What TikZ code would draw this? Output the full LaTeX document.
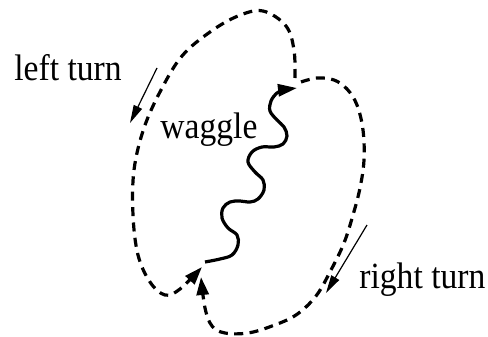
\documentclass[tikz,border=0pt]{standalone}
\usepackage{fontspec}
\usepackage{graphicx}
\setmainfont{Liberation Serif}
\newfontfamily\timesfam{Liberation Serif}
\usetikzlibrary{arrows.meta}
\newcommand{\tallbox}[1]{\scalebox{1}[1.1]{#1}}
\begin{document}
\begin{tikzpicture}[x=0.5pt,y=-0.5pt,
  loopline/.style={line width=1.6pt, dash pattern=on 4.5pt off 3.2pt, line join=round, -{Triangle[length=9pt,width=6pt]}},
  wag/.style={line width=1.6pt, line join=round, -{Triangle[length=9.5pt,width=6pt]}},
  hint/.style={line width=0.6pt, -{Triangle[length=9pt,width=4.5pt]}},
  lbl/.style={font=\timesfam\fontsize{16.8}{20}\selectfont, inner sep=0pt, anchor=base west}]
\useasboundingbox (0,0) rectangle (488,337);
% labels
\node[lbl] (lt) at (14,80) {\tallbox{left turn}};
\node[lbl] (wg) at (160,138) {\tallbox{waggle}};
\node[lbl] (rt) at (359,288) {\tallbox{right turn}};
% key points
\coordinate (ws) at (205,262);
\coordinate (we) at (297,88);
\coordinate (l1s) at (295,78);
\coordinate (l1e) at (202,267);
\coordinate (l2s) at (301,82);
\coordinate (l2e) at (201,277);
\coordinate (lta) at (157,68);
\coordinate (ltb) at (130,123);
\coordinate (rta) at (367,225);
\coordinate (rtb) at (326,293);
% waggle
\draw[wag] plot[smooth, tension=0.6] coordinates {(ws) (220,259) (232,255) (238,245) (237,235) (228,228) (222,218) (223,208) (230,202) (240,201) (250,202) (258,199) (264,190) (263,180) (255,172) (248,162) (252,152) (262,147) (274,147) (283,144) (287,136) (284,127) (277,120) (270,111) (271,101) (277,93) (284,90) (we)};
% left loop
\draw[loopline] plot[smooth, tension=0.6] coordinates {(l1s) (294,50) (286,26) (263,11) (238,16) (210,32) (182,56) (161,90) (144,128) (134,170) (133,215) (138,255) (150,282) (165,295) (180,289) (l1e)};
% right loop
\draw[loopline] plot[smooth, tension=0.6] coordinates {(l2s) (317,78) (334,80) (347,89) (357,105) (363,130) (364,160) (360,188) (353,215) (344,243) (331,270) (316,296) (296,315) (272,326) (248,333) (225,333) (212,326) (205,308) (l2e)};
% turn hints
\draw[hint] (lta) -- (ltb);
\draw[hint] (rta) -- (rtb);
\end{tikzpicture}
\end{document}
